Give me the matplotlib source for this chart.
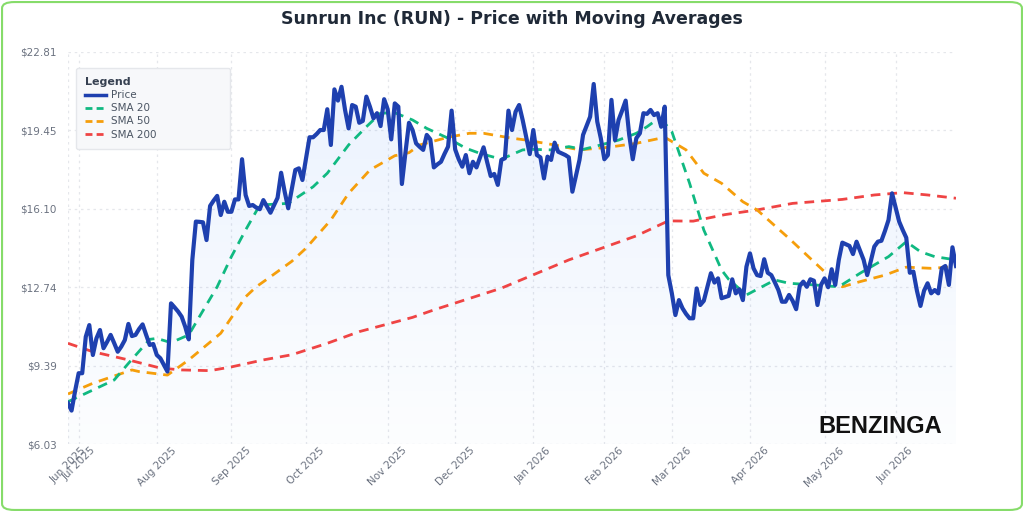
import numpy as np
import pandas as pd
import matplotlib
matplotlib.use("Agg")
import matplotlib.pyplot as plt
from matplotlib.patches import FancyBboxPatch
from matplotlib.lines import Line2D

# Trading-day calendar (x axis is trading days, not calendar days)
start_date = "2025-06-26"
n_days = 251
market_holidays = ["2025-07-04", "2025-09-01", "2025-11-27", "2025-12-25",
                   "2026-01-01", "2026-01-19", "2026-02-16", "2026-04-03",
                   "2026-05-25", "2026-06-19"]

# Close price, one value per trading day
price = [
    7.77, 7.46, 8.30, 9.06, 9.06, 10.62, 11.12, 9.84, 10.55, 10.91,
    10.13, 10.40, 10.70, 10.35, 9.98, 10.20, 10.48, 11.17, 10.65, 10.70,
    10.95, 11.15, 10.70, 10.27, 10.31, 9.84, 9.70, 9.41, 9.13, 12.05,
    11.88, 11.70, 11.48, 11.05, 10.51, 13.91, 15.55, 15.54, 15.52, 14.76,
    16.22, 16.45, 16.65, 15.83, 16.40, 15.97, 15.97, 16.50, 16.50, 18.22,
    16.69, 16.22, 16.26, 16.15, 16.08, 16.47, 16.20, 15.93, 16.25, 16.57,
    17.64, 16.83, 16.12, 16.95, 17.76, 17.83, 17.33, 18.25, 19.16, 19.16,
    19.30, 19.47, 19.47, 20.36, 18.83, 21.21, 20.73, 21.32, 20.33, 19.54,
    20.54, 20.47, 19.78, 19.86, 20.90, 20.47, 19.97, 20.19, 19.64, 20.79,
    20.36, 19.07, 20.61, 20.47, 17.16, 18.50, 19.78, 19.47, 18.90, 18.75,
    18.62, 19.26, 19.07, 17.87, 18.00, 18.11, 18.45, 18.76, 20.30, 18.64,
    18.22, 17.90, 18.40, 17.62, 18.11, 17.87, 18.30, 18.73, 18.10, 17.50,
    17.59, 17.12, 18.19, 18.26, 20.30, 19.47, 20.25, 20.54, 19.90, 19.18,
    18.44, 19.47, 18.40, 18.30, 17.40, 18.33, 18.19, 18.93, 18.54, 18.47,
    18.40, 18.30, 16.83, 17.50, 18.19, 19.26, 19.65, 20.04, 21.44, 19.83,
    19.12, 18.22, 18.40, 20.76, 19.04, 19.90, 20.30, 20.73, 19.26, 18.22,
    19.12, 19.33, 20.19, 20.16, 20.33, 20.11, 20.19, 19.61, 20.47, 13.26,
    12.48, 11.55, 12.19, 11.84, 11.60, 11.41, 11.41, 12.69, 11.98, 12.16,
    12.75, 13.34, 12.94, 13.12, 12.27, 12.32, 12.37, 13.08, 12.48, 12.65,
    12.19, 13.62, 14.19, 13.55, 13.26, 13.22, 13.94, 13.36, 13.26, 12.95,
    12.62, 12.12, 12.12, 12.41, 12.16, 11.80, 12.79, 12.98, 12.76, 13.08,
    13.02, 11.98, 12.84, 13.12, 12.74, 13.51, 12.84, 13.91, 14.65, 14.58,
    14.51, 14.16, 14.69, 14.30, 13.91, 13.26, 13.85, 14.48, 14.69, 14.73,
    15.15, 15.62, 16.76, 16.15, 15.55, 15.19, 14.86, 13.36, 13.41, 12.59,
    11.94, 12.59, 12.91, 12.48, 12.62, 12.48, 13.55, 13.65, 12.84, 14.45,
    13.65,
]

# Moving averages, read at sparse trading-day positions
sma20_day = [0, 13, 17, 23, 25, 29, 34, 37, 42, 46, 50, 54, 62, 69, 73, 79, 84,
             88, 92, 97, 101, 107, 112, 116, 122, 128, 131, 136, 141, 145, 150,
             155, 160, 163, 165, 168, 170, 175, 179, 184, 186, 191, 199, 203,
             210, 217, 223, 231, 236, 240, 244, 250]
sma20 = [7.84, 8.77, 9.48, 10.51, 10.55, 10.37, 10.70, 11.48, 12.76, 14.05,
         15.19, 16.26, 16.33, 17.04, 17.62, 18.83, 19.61, 20.19, 20.21, 19.90,
         19.54, 19.12, 18.69, 18.47, 18.22, 18.62, 18.64, 18.62, 18.76, 18.64,
         18.83, 19.04, 19.33, 19.61, 19.83, 19.76, 19.40, 17.19, 15.19, 13.48,
         13.08, 12.41, 13.05, 12.91, 12.84, 12.76, 13.34, 14.05, 14.69, 14.26,
         14.05, 13.91]

sma50_day = [0, 7, 13, 18, 20, 28, 34, 43, 50, 53, 57, 63, 67, 74, 79, 85, 92,
             96, 99, 107, 113, 117, 125, 129, 137, 144, 152, 160, 168, 174, 179,
             184, 190, 194, 203, 210, 215, 218, 223, 230, 236, 243, 250]
sma50 = [8.17, 8.63, 8.94, 9.20, 9.13, 8.98, 9.63, 10.77, 12.33, 12.76, 13.19,
         13.85, 14.41, 15.62, 16.76, 17.76, 18.37, 18.50, 18.83, 19.16, 19.33,
         19.33, 19.12, 19.04, 18.83, 18.62, 18.73, 18.90, 19.16, 18.62, 17.62,
         17.19, 16.40, 16.05, 14.83, 13.83, 13.12, 12.76, 12.98, 13.26, 13.60,
         13.55, 13.62]

sma200_day = [0, 7, 17, 26, 32, 40, 46, 55, 63, 73, 82, 97, 103, 122, 141, 160,
              169, 176, 185, 194, 204, 218, 227, 235, 242, 250]
sma200 = [10.34, 9.98, 9.63, 9.28, 9.20, 9.17, 9.33, 9.63, 9.85, 10.34, 10.84,
          11.45, 11.77, 12.70, 13.91, 14.94, 15.58, 15.57, 15.85, 16.05, 16.33,
          16.50, 16.69, 16.79, 16.69, 16.55]

y_min, y_max = 6.03, 22.81

days = pd.bdate_range(start=start_date, periods=n_days, freq="C",
                      holidays=market_holidays)
x = np.arange(n_days)
price = np.array(price)

# first trading day of each month -> tick
month_key = days.year * 100 + days.month
tick_pos = [0] + [i for i in range(1, n_days) if month_key[i] != month_key[i - 1]]
tick_lab = [days[i].strftime("%b %Y") for i in tick_pos]

fig = plt.figure(figsize=(10.24, 5.12), dpi=100)
fig.patch.set_facecolor("white")
fig.patches.append(FancyBboxPatch((0.002, 0.004), 0.996, 0.992,
                                  boxstyle="round,pad=0,rounding_size=0.012",
                                  transform=fig.transFigure, facecolor="white",
                                  edgecolor="#86dc6a", linewidth=1.5, zorder=-1))

ax = fig.add_axes([68 / 1024, 1 - 444 / 512, 888 / 1024, 392 / 512])
ax.set_facecolor("none")

# light gradient fill under the price line
poly = ax.fill_between(x, price, y_min, color="none", lw=0)
grad = np.linspace(0.015, 0.10, 256).reshape(-1, 1)
rgba = np.zeros((256, 1, 4))
rgba[..., 0] = 0.23
rgba[..., 1] = 0.51
rgba[..., 2] = 0.96
rgba[..., 3] = grad
img = ax.imshow(rgba, aspect="auto", origin="lower",
                extent=[0, n_days - 1, y_min, price.max()], zorder=1)
img.set_clip_path(poly.get_paths()[0], transform=ax.transData)

ax.plot(sma200_day, sma200, color="#ef4444", lw=2, ls=(0, (3.5, 2.5)), zorder=2)
ax.plot(sma50_day, sma50, color="#f59e0b", lw=2, ls=(0, (3.5, 2.5)), zorder=3)
ax.plot(sma20_day, sma20, color="#10b981", lw=2, ls=(0, (3.5, 2.5)), zorder=4)
ax.plot(x, price, color="#1e40af", lw=3, zorder=5, solid_joinstyle="round")

ax.set_xlim(0, n_days - 1)
ax.set_ylim(y_min, y_max)
yt = np.linspace(y_min, y_max, 6)
ax.set_yticks(yt)
ax.set_yticklabels([f"${v:.2f}" for v in yt])
ax.set_xticks(tick_pos)
ax.set_xticklabels(tick_lab, rotation=45, ha="center")
ax.tick_params(length=0, colors="#6b7280", labelsize=7.5, pad=8)
ax.tick_params(axis="x", pad=1)
for s in ax.spines.values():
    s.set_visible(False)
ax.grid(True, color="#e5e7eb", ls=(0, (2, 3)), lw=0.9)
ax.set_axisbelow(True)

fig.text(0.5, 0.962, "Sunrun Inc (RUN) - Price with Moving Averages",
         ha="center", va="center", fontsize=12.5, fontweight="bold",
         color="#1f2937")

handles = [Line2D([], [], color="#1e40af", lw=2.5),
           Line2D([], [], color="#10b981", lw=2, ls=(0, (2.5, 1.5))),
           Line2D([], [], color="#f59e0b", lw=2, ls=(0, (2.5, 1.5))),
           Line2D([], [], color="#ef4444", lw=2, ls=(0, (2.5, 1.5)))]
leg = ax.legend(handles, ["Price", "SMA 20", "SMA 50", "SMA 200"],
                title="Legend", loc="upper left", mode="expand",
                bbox_to_anchor=(0.009, 0.96 - 0.3, 154 / 888, 0.3),
                fontsize=7.5, title_fontsize=8, alignment="left",
                frameon=True, fancybox=True, facecolor="#f7f8fa",
                edgecolor="#e5e7eb", framealpha=1, handlelength=2.0,
                handletextpad=0.5, labelspacing=0.3, borderpad=0.9,
                borderaxespad=0)
leg.get_title().set_fontweight("bold")
leg.get_title().set_color("#374151")
for t in leg.get_texts():
    t.set_color("#4b5563")
leg.set_zorder(10)

fig.text(0.799, 0.167, "BENZINGA", fontsize=17, fontweight="bold",
         color="#111111", family="Liberation Sans", ha="left", va="center")

fig.savefig("out.png", dpi=100)
